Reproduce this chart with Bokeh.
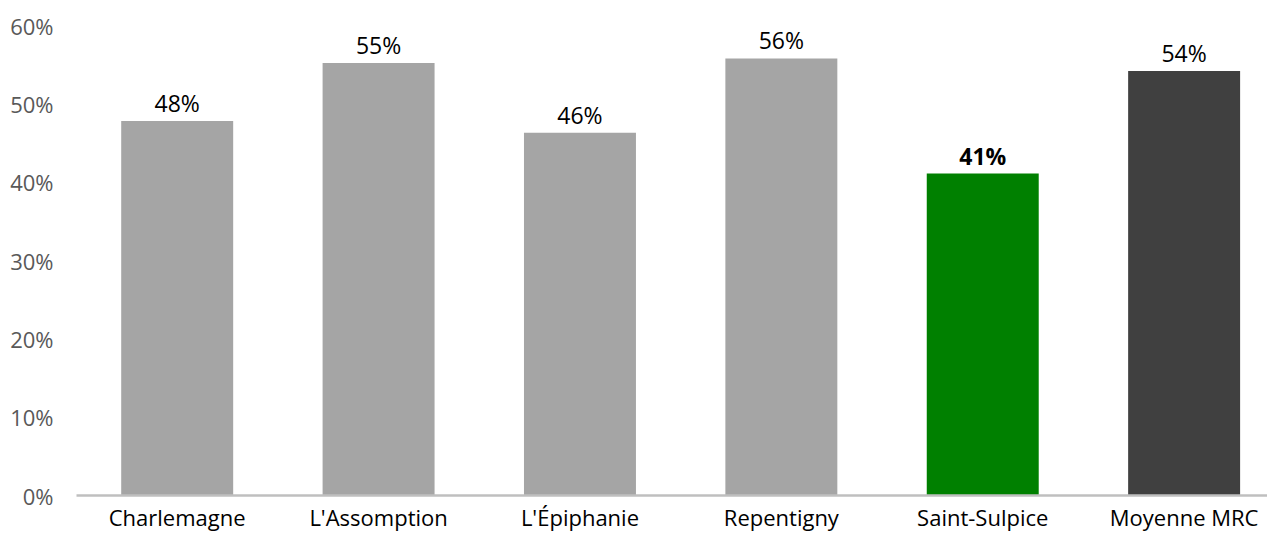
from bokeh.plotting import figure
from bokeh.models import ColumnDataSource, FixedTicker, PrintfTickFormatter, Range1d
from bokeh.core.properties import value
from bokeh.embed import file_html
from bokeh.resources import INLINE

# ---- data ----
categories = ["Charlemagne", "L'Assomption", "L'Épiphanie", "Repentigny", "Saint-Sulpice", "Moyenne MRC"]
values = [47.8, 55.2, 46.3, 55.8, 41.1, 54.2]
value_labels = ["48%", "55%", "46%", "56%", "41%", "54%"]
bar_colors = ["#A5A5A5", "#A5A5A5", "#A5A5A5", "#A5A5A5", "#008000", "#404040"]
label_weights = ["normal", "normal", "normal", "normal", "bold", "normal"]
y_ticks = [0, 10, 20, 30, 40, 50, 60]

xs = list(range(len(categories)))
src = ColumnDataSource(dict(x=xs, top=values, color=bar_colors, label=value_labels, weight=label_weights))

FONT = "Open Sans"

p = figure(width=1267, height=534, output_backend="svg", toolbar_location=None,
           x_range=Range1d(-0.5, 5.414), y_range=Range1d(0, 60),
           min_border_left=76, min_border_right=0, min_border_top=25, min_border_bottom=10)
p.outline_line_color = None
p.grid.grid_line_color = None

p.vbar(x="x", top="top", bottom=0, width=0.556, fill_color="color", line_color=None, source=src)
p.text(x="x", y="top", text="label", source=src, text_align="center", text_baseline="alphabetic",
       y_offset=-18, text_font=value(FONT), text_font_size="23px", text_color="#000000",
       text_font_style="weight")

# x axis
p.xaxis.ticker = FixedTicker(ticks=xs)
p.xaxis.major_label_overrides = {i: c for i, c in zip(xs, categories)}
p.xaxis.axis_line_color = "#BFBFBF"
p.xaxis.axis_line_width = 2.5
p.xaxis.major_tick_line_color = None
p.xaxis.minor_tick_line_color = None
p.xaxis.major_tick_out = 0
p.xaxis.major_tick_in = 0
p.xaxis.major_label_text_font = FONT
p.xaxis.major_label_text_font_size = "22px"
p.xaxis.major_label_text_color = "#000000"
p.xaxis.major_label_standoff = 6

# y axis
p.yaxis.ticker = FixedTicker(ticks=y_ticks)
p.yaxis.formatter = PrintfTickFormatter(format="%d%%")
p.yaxis.axis_line_color = None
p.yaxis.major_tick_line_color = None
p.yaxis.minor_tick_line_color = None
p.yaxis.major_tick_out = 0
p.yaxis.major_tick_in = 0
p.yaxis.major_label_text_font = FONT
p.yaxis.major_label_text_font_size = "22px"
p.yaxis.major_label_text_color = "#595959"
p.yaxis.major_label_standoff = 23

open("out.html", "w").write(file_html(p, INLINE))
